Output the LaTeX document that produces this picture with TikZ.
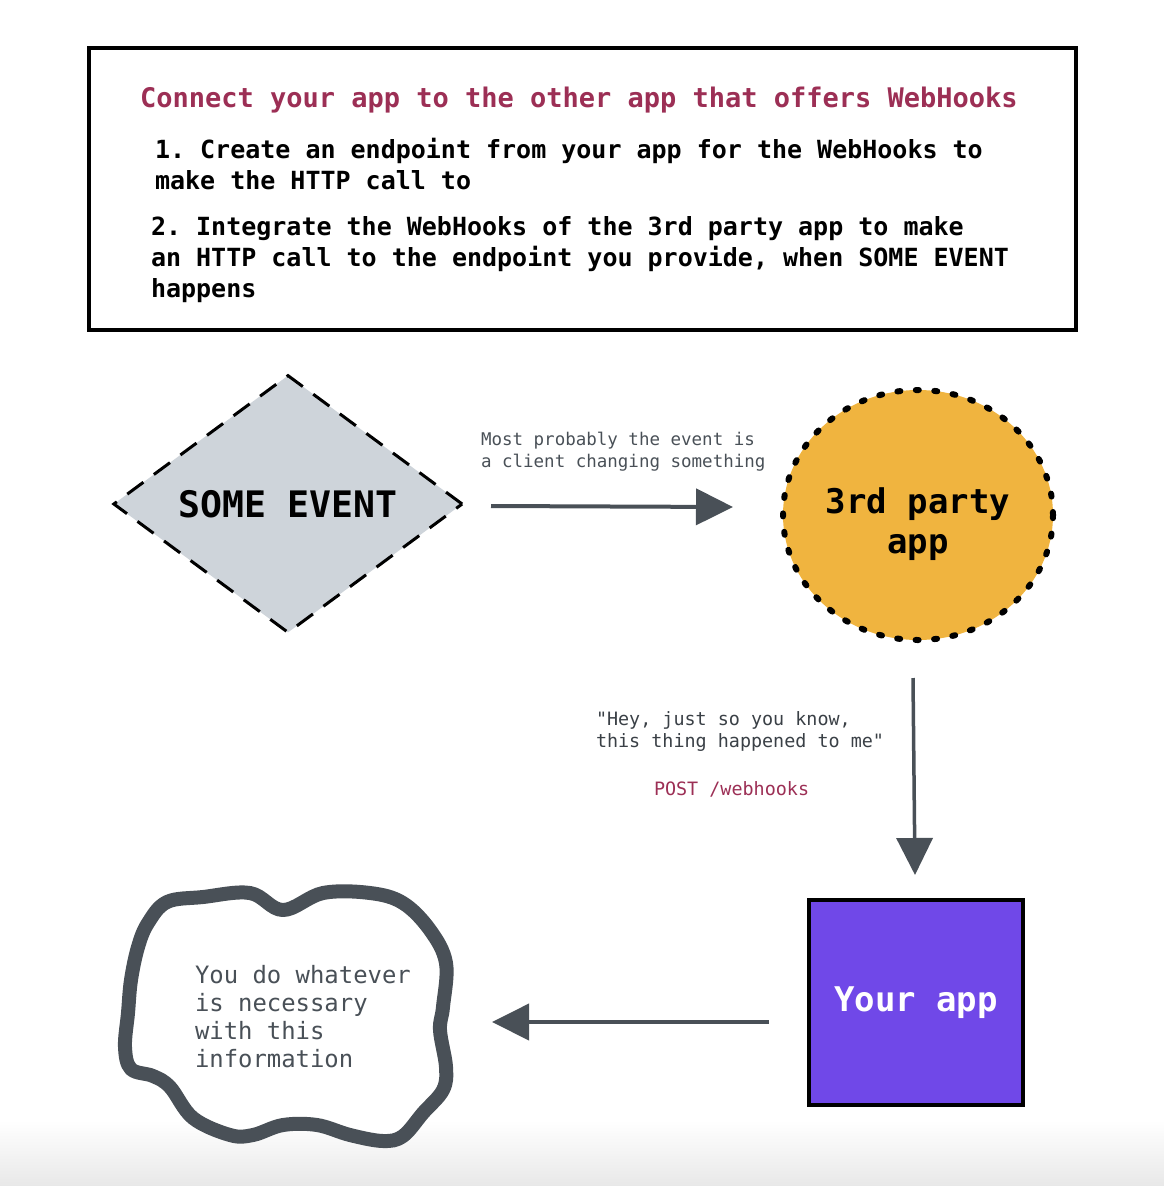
\documentclass[tikz,border=0pt]{standalone}
\usepackage{fontspec}
\setmonofont{DejaVu Sans Mono}
\usetikzlibrary{arrows.meta,shapes.geometric}
\definecolor{titlered}{HTML}{9C2F55}
\definecolor{evgray}{HTML}{CED4DA}
\definecolor{thirdorange}{HTML}{F0B43F}
\definecolor{appviolet}{HTML}{7048E8}
\definecolor{darkgray}{HTML}{495057}
\begin{document}
\begin{tikzpicture}[x=1pt,y=-1pt,
  txt/.style={anchor=base west, inner sep=0pt, outer sep=0pt, align=left},
  arr/.style={draw=darkgray, line width=4pt, -{Triangle[length=37pt,width=36pt]}, fill=darkgray},
]
\useasboundingbox (0,0) rectangle (1164,1186);
\fill[top color=white, bottom color=black!9] (0,1120) rectangle (1164,1186);

% info box
\node[draw, line width=4pt, minimum width=987pt, minimum height=282pt, inner sep=0pt] (infobox) at (582.5,189) {};
\node[txt, text=titlered, font=\ttfamily\bfseries\fontsize{27}{32}\selectfont] (title) at (140,107)
  {Connect your app to the other app that offers WebHooks};
\node[txt, font=\ttfamily\bfseries\fontsize{25}{31}\selectfont] (item1) at (155,189)
  {1. Create an endpoint from your app for the WebHooks to\\make the HTTP call to};
\node[txt, font=\ttfamily\bfseries\fontsize{25}{31}\selectfont] (item2) at (151,297)
  {2. Integrate the WebHooks of the 3rd party app to make\\an HTTP call to the endpoint you provide, when SOME EVENT\\happens};

% some event
\node[diamond, draw, line width=3pt, dash pattern=on 20pt off 13pt, fill=evgray,
      minimum width=349.5pt, minimum height=258pt, aspect=1.355, inner sep=0pt,
      font=\ttfamily\bfseries\fontsize{36.5}{40}\selectfont] (event) at (288,504) {SOME EVENT};

% 3rd party app
\node[ellipse, draw, line width=6pt, line cap=round, dash pattern=on 3pt off 15.5pt, fill=thirdorange,
      minimum width=270pt, minimum height=250pt, inner sep=0pt] (third) at (918,515) {};
\node[align=center, inner sep=0pt, font=\ttfamily\bfseries\fontsize{34}{40}\selectfont] (thirdtext) at (918,524) {3rd party\\app};

% arrow 1
\coordinate (a1s) at (491,506);
\coordinate (a1e) at (733,507);
\draw[arr] (a1s) -- (a1e);
\node[txt, text=darkgray, font=\ttfamily\fontsize{17.5}{21.5}\selectfont] (lbl1) at (481,467)
  {Most probably the event is\\a client changing something};

% arrow 2
\coordinate (a2s) at (913,678);
\coordinate (a2e) at (915,875);
\draw[arr, line width=3.5pt] (a2s) -- (a2e);
\node[txt, text=darkgray!80!black, font=\ttfamily\fontsize{18.4}{22}\selectfont] (lbl2) at (596,747)
  {"Hey, just so you know,\\this thing happened to me"};
\node[txt, text=titlered, font=\ttfamily\fontsize{18.4}{22}\selectfont] (lbl3) at (654,795) {POST /webhooks};

% your app
\node[draw, line width=4pt, fill=appviolet, minimum width=214pt, minimum height=205pt, inner sep=0pt,
      text=white, font=\ttfamily\bfseries\fontsize{34}{40}\selectfont] (yourapp) at (916,1002.5) {Your app};

% arrow 3
\coordinate (a3s) at (769,1022);
\coordinate (a3e) at (492,1022);
\draw[arr] (a3s) -- (a3e);

% cloud
\draw[line width=14pt, darkgray, fill=white, line join=round]
  plot[smooth cycle, tension=0.6] coordinates {
    (167,902) (203,897) (250,893) (283,910) (323,893) (370,893) (403,903)
    (430,930) (446,963) (443,1007) (440,1030) (446,1067) (443,1090)
    (423,1113) (403,1136) (383,1141) (350,1135) (317,1125) (283,1125)
    (253,1135) (230,1135) (193,1118) (170,1087) (153,1076) (131,1069)
    (125,1047) (128,1013) (131,980) (138,947) (148,923)};
\node[txt, text=darkgray, font=\ttfamily\fontsize{23.9}{28}\selectfont] (todo) at (195,1067)
  {You do whatever\\is necessary\\with this\\information};
\end{tikzpicture}
\end{document}
